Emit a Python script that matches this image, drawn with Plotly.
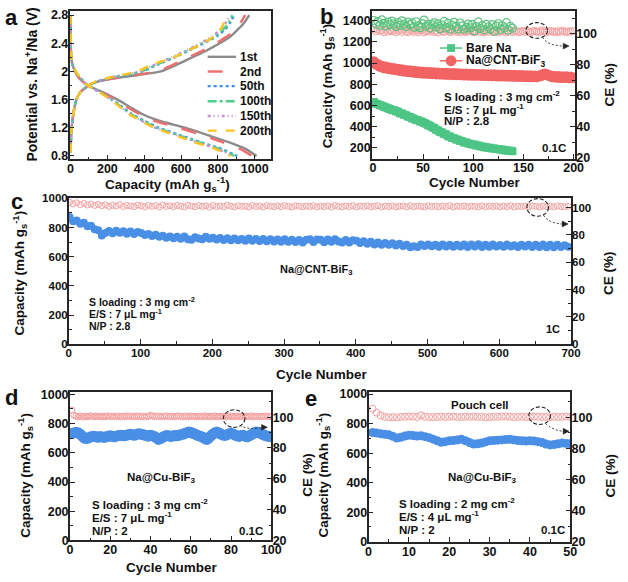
import plotly.graph_objects as go

W, H = 628, 582
def px(x): return x / W
def py(y): return 1 - y / H

FAM = "Liberation Sans, Arial, sans-serif"
# ---------------- data ----------------
# panel a: voltage profiles
cycles_a = ["1st", "2nd", "50th", "100th", "150th", "200th"]
colors_a = ["#8c8c8c", "#f26d6d", "#3d8ef0", "#4ccf8a", "#c68fd6", "#ffc41f"]
dis_V = [2.8, 2.4, 2.2, 2.1, 2.0, 1.9, 1.8, 1.7, 1.6, 1.5, 1.4, 1.3, 1.2, 1.1, 1.0, 0.9, 0.8]
dis_1st   = [0, 1, 4, 10, 24, 48, 95, 180, 255, 320, 385, 480, 625, 740, 855, 950, 1010]
dis_2nd   = [0, 1, 4, 10, 25, 50, 95, 175, 245, 305, 370, 455, 590, 710, 820, 920, 985]
dis_50th  = [0, 1, 4, 10, 27, 56, 95, 165, 225, 280, 330, 400, 480, 590, 700, 820, 905]
dis_100th = [0, 1, 4, 10, 27, 56, 95, 165, 222, 275, 325, 392, 470, 580, 690, 810, 890]
dis_150th = [0, 1, 4, 10, 28, 57, 95, 160, 220, 270, 320, 385, 462, 570, 680, 800, 878]
dis_200th = [0, 1, 4, 10, 28, 58, 95, 160, 218, 266, 315, 378, 455, 560, 668, 785, 868]
chg_V = [0.85, 1.2, 1.5, 1.6, 1.7, 1.8, 1.85, 1.9, 1.95, 2.0, 2.1, 2.2, 2.3, 2.4, 2.5, 2.6, 2.7, 2.8]
chg_1st   = [0, 6, 22, 32, 52, 98, 140, 230, 370, 490, 580, 660, 740, 810, 870, 910, 945, 970]
chg_2nd   = [0, 6, 22, 32, 52, 98, 140, 225, 350, 470, 560, 640, 720, 790, 850, 895, 925, 948]
chg_50th  = [0, 6, 22, 32, 52, 98, 135, 200, 300, 390, 475, 565, 645, 722, 795, 840, 868, 888]
chg_100th = [0, 6, 22, 32, 52, 98, 135, 198, 295, 385, 470, 560, 640, 715, 785, 830, 860, 878]
chg_150th = [0, 6, 22, 32, 52, 98, 133, 195, 290, 375, 460, 550, 630, 705, 770, 815, 845, 862]
chg_200th = [0, 6, 22, 32, 52, 98, 130, 190, 280, 360, 445, 560, 640, 720, 780, 815, 835, 850]
dis_caps = [dis_1st, dis_2nd, dis_50th, dis_100th, dis_150th, dis_200th]
chg_caps = [chg_1st, chg_2nd, chg_50th, chg_100th, chg_150th, chg_200th]

# panel b
b_series = ["Bare Na", "Na@CNT-BiF<sub>3</sub>"]
b_bare_cycle = list(range(1, 141, 2))
b_bare_cap = [632, 616, 611, 602, 597, 588, 582, 574, 568, 558,
              554, 545, 540, 528, 524, 513, 508, 496, 492, 480,
              476, 464, 460, 449, 446, 434, 428, 414, 409, 394,
              388, 372, 365, 350, 346, 331, 327, 311, 308, 294,
              292, 279, 276, 264, 262, 251, 250, 241, 240, 231,
              231, 223, 223, 215, 214, 207, 207, 200, 201, 194,
              195, 189, 190, 183, 184, 177, 179, 173, 174, 168]
b_bare_ce = [108.5, 106.2, 107.8, 105.4, 108.9, 106.7, 104.9, 107.5, 105.8, 108.1,
             106.4, 104.7, 107.2, 105.5, 108.3, 106.0, 104.6, 107.4, 105.9, 106.8,
             104.2, 107.7, 105.1, 103.9, 106.5, 108.8, 104.8, 106.1, 103.6, 105.7,
             107.0, 104.4, 106.3, 103.2, 105.6, 107.9, 104.0, 106.6, 102.9, 105.3,
             107.3, 104.5, 103.1, 106.9, 105.0, 102.8, 104.1, 106.2, 103.7, 105.9,
             101.8, 104.6, 107.6, 103.4, 105.2, 102.5, 106.0, 104.3, 103.0, 105.8,
             101.5, 104.9, 106.4, 102.7, 105.1, 103.8, 107.1, 102.2, 104.7, 103.5]
b_cnt_cycle = list(range(1, 201, 2))
b_cnt_cap = [1012, 990, 986, 970, 969, 955, 962, 948, 954, 942,
             948, 936, 941, 929, 936, 924, 931, 919, 927, 915,
             922, 911, 918, 907, 916, 904, 913, 902, 910, 900,
             909, 898, 907, 896, 905, 894, 904, 893, 902, 891,
             901, 890, 899, 889, 898, 887, 897, 886, 895, 885,
             894, 884, 893, 883, 892, 882, 891, 881, 890, 880,
             889, 879, 888, 878, 887, 877, 886, 876, 885, 875,
             884, 874, 883, 873, 882, 872, 881, 871, 880, 870,
             879, 871, 878, 880, 889, 896, 892, 884, 878, 870,
             874, 866, 873, 864, 871, 863, 870, 861, 868, 862]
b_cnt_ce = [102.6, 101.4, 102.9, 101.7, 102.2, 100.9, 102.5, 101.3, 102.0, 101.6,
            102.4, 100.8, 101.9, 102.3, 101.1, 102.7, 101.5, 100.9, 102.1, 101.8,
            101.2, 102.5, 101.0, 101.9, 102.3, 100.8, 101.6, 102.0, 101.3, 102.6,
            101.1, 101.8, 100.7, 102.2, 101.5, 101.0, 102.4, 101.7, 100.9, 101.9,
            102.1, 101.2, 101.6, 100.8, 102.3, 101.4, 101.0, 101.8, 102.0, 101.3,
            100.9, 101.7, 102.2, 101.1, 101.5, 100.8, 101.9, 101.3, 102.1, 101.0,
            101.6, 102.0, 100.9, 101.4, 101.8, 101.2, 100.8, 101.7, 102.2, 101.0,
            101.5, 101.9, 100.9, 101.3, 101.8, 101.1, 102.0, 101.4, 100.8, 101.6,
            101.9, 101.2, 101.0, 101.7, 102.1, 101.3, 100.9, 101.6, 101.8, 101.1,
            101.5, 100.9, 101.7, 101.2, 102.0, 101.4, 101.0, 101.6, 101.3, 101.8]

# panel c
c_cycle = list(range(1, 701, 5))
c_cap = [872, 842, 848, 826, 832, 808, 812, 788, 782, 746,
         762, 776, 760, 778, 764, 775, 758, 772, 756, 770,
         762, 748, 756, 742, 750, 736, 744, 730, 739, 727,
         736, 723, 738, 720, 716, 733, 724, 719, 736, 723,
         729, 718, 728, 715, 726, 713, 724, 712, 722, 710,
         725, 710, 722, 708, 721, 705, 719, 704, 718, 703,
         719, 702, 716, 700, 714, 698, 716, 719, 700, 718,
         716, 699, 718, 702, 719, 704, 698, 714, 697, 712,
         710, 694, 706, 689, 702, 684, 698, 681, 694, 682,
         692, 677, 688, 674, 682, 664, 671, 666, 683, 673,
         684, 671, 682, 668, 683, 670, 681, 668, 682, 669,
         683, 667, 684, 669, 685, 666, 682, 668, 684, 669,
         680, 668, 683, 670, 679, 667, 682, 669, 681, 666,
         682, 667, 683, 665, 681, 664, 682, 666, 679, 668]
c_ce = [103.8, 102.6, 103.4, 102.1, 102.9, 101.8, 102.5, 101.5, 102.2, 101.3,
        101.9, 100.8, 101.6, 101.0, 102.0, 100.7, 101.5, 101.1, 100.6, 101.8,
        101.2, 100.5, 101.6, 100.9, 101.4, 100.4, 101.7, 100.8, 101.3, 100.6,
        101.5, 100.9, 100.4, 101.6, 101.0, 100.5, 101.4, 100.8, 101.2, 100.3,
        101.5, 100.7, 101.1, 100.5, 101.6, 100.9, 100.4, 101.3, 100.8, 101.0,
        100.4, 101.5, 100.7, 101.1, 100.3, 101.4, 100.9, 100.6, 101.2, 100.5,
        101.4, 100.8, 100.4, 101.3, 100.9, 100.5, 101.1, 100.7, 101.3, 100.4,
        101.0, 100.6, 101.2, 100.3, 101.4, 100.8, 100.5, 101.1, 100.6, 101.3,
        100.4, 101.0, 100.7, 101.2, 100.5, 100.9, 101.3, 100.4, 101.0, 100.7,
        101.2, 100.5, 100.9, 101.1, 100.4, 101.3, 100.6, 101.0, 100.8, 100.4,
        101.2, 100.7, 100.9, 100.5, 101.1, 100.6, 101.3, 100.4, 100.9, 100.7,
        101.1, 100.5, 101.0, 100.8, 100.4, 101.2, 100.6, 100.9, 100.7, 101.1,
        100.5, 101.0, 100.6, 101.2, 100.4, 100.9, 100.7, 101.0, 100.5, 101.1,
        100.8, 100.4, 101.0, 100.6, 100.9, 100.5, 101.1, 100.7, 100.6, 100.9]

# panel d
d_cycle = list(range(1, 101))
d_cap = [732, 736, 741, 738, 728, 716, 702, 698, 701, 708,
         712, 714, 710, 706, 711, 709, 705, 710, 714, 716,
         713, 710, 714, 718, 721, 719, 716, 720, 724, 727,
         723, 720, 726, 731, 728, 725, 722, 718, 714, 721,
         716, 712, 702, 692, 698, 706, 713, 718, 716, 712,
         715, 719, 716, 720, 724, 727, 733, 738, 742, 740,
         734, 729, 722, 717, 712, 707, 697, 692, 703, 716,
         728, 738, 742, 735, 728, 722, 719, 724, 730, 734,
         729, 722, 716, 712, 718, 721, 714, 710, 716, 723,
         732, 740, 743, 738, 730, 724, 718, 714, 712, 710]
d_ce = [104.6, 101.3, 100.6, 100.2, 100.8, 100.4, 100.1, 100.7, 100.3, 100.9,
        100.5, 100.2, 100.8, 100.4, 100.6, 100.1, 100.7, 100.3, 100.9, 100.5,
        100.2, 100.6, 100.4, 100.8, 100.1, 100.5, 100.7, 100.3, 100.9, 100.4,
        100.6, 100.2, 100.8, 100.5, 100.3, 100.7, 100.1, 100.6, 100.4, 101.2,
        100.8, 100.3, 100.5, 100.7, 100.2, 100.6, 100.4, 100.9, 100.3, 100.5,
        100.7, 100.2, 100.6, 100.8, 100.4, 100.1, 100.7, 100.5, 100.3, 100.8,
        100.4, 100.6, 100.2, 100.7, 100.5, 100.3, 100.9, 100.4, 100.6, 100.2,
        100.5, 100.8, 100.3, 100.6, 100.4, 100.7, 100.2, 100.5, 100.9, 100.3,
        100.6, 100.4, 100.8, 100.2, 100.5, 100.7, 100.3, 100.6, 100.4, 100.9,
        100.2, 100.5, 100.7, 100.3, 100.6, 100.4, 100.8, 100.2, 100.5, 100.4]

# panel e
e_cycle = list(range(1, 51))
e_cap = [740, 736, 732, 728, 724, 714, 702, 708, 716, 722,
         720, 716, 718, 712, 705, 695, 684, 674, 678, 684,
         686, 690, 694, 684, 672, 662, 664, 668, 676, 684,
         686, 688, 690, 692, 694, 690, 686, 684, 682, 684,
         682, 678, 672, 662, 656, 658, 664, 668, 666, 664]
e_ce = [105.6, 103.0, 101.2, 100.3, 100.1, 100.2, 100.0, 100.3, 100.4, 100.6,
        100.5, 100.2, 101.3, 100.4, 100.2, 100.1, 100.3, 100.5, 100.2, 100.4,
        100.5, 100.3, 100.2, 100.4, 100.3, 100.5, 100.2, 100.3, 100.1, 100.2,
        100.4, 100.3, 100.5, 100.6, 100.4, 100.2, 100.3, 100.4, 100.2, 100.3,
        100.5, 100.4, 100.2, 100.3, 100.1, 100.4, 100.2, 100.3, 100.5, 100.2]

# ---------------- figure ----------------
fig = go.Figure()

dash_a = ["solid", "longdash", "dot", "dashdot", "3px,3px,1px,3px,1px,3px", "dash"]
for name, col, dsh, dc, cc in zip(cycles_a, colors_a, dash_a, dis_caps, chg_caps):
    fig.add_trace(go.Scatter(
        x=dc + [None] + cc, y=dis_V + [None] + chg_V, mode="lines", name=name, showlegend=False,
        line=dict(color=col, width=2.4, dash=dsh, shape="spline", smoothing=0.6),
        xaxis="x", yaxis="y"))

RED = "#f26464"; GREEN = "#4dc585"; BLUE = "#4a8fe6"; PINK = "#f3a0a0"
# panel b
fig.add_trace(go.Scatter(x=b_cnt_cycle, y=b_cnt_ce, mode="markers", showlegend=False,
    marker=dict(symbol="circle-open", size=7, color=PINK, line=dict(width=1)),
    xaxis="x2", yaxis="y3"))
fig.add_trace(go.Scatter(x=b_bare_cycle, y=b_bare_ce, mode="markers", showlegend=False,
    marker=dict(symbol="circle-open", size=8, color="#5cc27f", line=dict(width=1.2)),
    xaxis="x2", yaxis="y3"))
fig.add_trace(go.Scatter(x=b_bare_cycle, y=b_bare_cap, mode="lines+markers", name=b_series[0], showlegend=False,
    marker=dict(symbol="square", size=8, color=GREEN), line=dict(color=GREEN, width=1.5),
    xaxis="x2", yaxis="y2"))
fig.add_trace(go.Scatter(x=b_cnt_cycle, y=b_cnt_cap, mode="lines+markers", name=b_series[1], showlegend=False,
    marker=dict(symbol="circle", size=11, color=RED), line=dict(color=RED, width=1.5),
    xaxis="x2", yaxis="y2"))
# panel c
fig.add_trace(go.Scatter(x=c_cycle, y=c_ce, mode="markers", showlegend=False,
    marker=dict(symbol="circle-open", size=6, color=PINK, line=dict(width=1)),
    xaxis="x3", yaxis="y5"))
fig.add_trace(go.Scatter(x=c_cycle, y=c_cap, mode="markers", showlegend=False,
    marker=dict(symbol="circle", size=8, color=BLUE), xaxis="x3", yaxis="y4"))
# panel d
fig.add_trace(go.Scatter(x=d_cycle, y=d_ce, mode="markers", showlegend=False,
    marker=dict(symbol="circle-open", size=6, color=PINK, line=dict(width=1)),
    xaxis="x4", yaxis="y7"))
fig.add_trace(go.Scatter(x=d_cycle, y=d_cap, mode="markers", showlegend=False,
    marker=dict(symbol="circle", size=11, color=BLUE), xaxis="x4", yaxis="y6"))
# panel e
fig.add_trace(go.Scatter(x=e_cycle, y=e_ce, mode="markers", showlegend=False,
    marker=dict(symbol="circle-open", size=7, color=PINK, line=dict(width=1)),
    xaxis="x5", yaxis="y9"))
fig.add_trace(go.Scatter(x=e_cycle, y=e_cap, mode="markers", showlegend=False,
    marker=dict(symbol="circle", size=9, color=BLUE), xaxis="x5", yaxis="y8"))

LC = "#262626"
def tf(s): return dict(family=FAM, size=s, color="#111", weight="bold")

def ax(domain, rng, dtick, minor, anchor, tsize=12.5, mirror=True, tick0=0, side=None,
       overlaying=None, standoff=-3):
    d = dict(domain=domain, range=rng, dtick=dtick, tick0=tick0, ticks="inside", ticklen=5,
             tickwidth=1.3, tickcolor=LC,
             minor=dict(ticks="inside", ticklen=3, dtick=minor, tickwidth=1.1, tickcolor=LC, showgrid=False),
             showline=True, linecolor=LC, linewidth=1.6, mirror=mirror, showgrid=False,
             zeroline=False, anchor=anchor, tickfont=tf(tsize), ticklabelstandoff=standoff)
    if side: d["side"] = side
    if overlaying: d["overlaying"] = overlaying
    return d

XS = -3   # x tick label standoff
YS = -3   # y tick label standoff
layout = dict(
    width=W, height=H, margin=dict(l=0, r=0, t=0, b=0), showlegend=False,
    paper_bgcolor="white", plot_bgcolor="white",
    font=dict(family=FAM, color="#111"),
    xaxis=ax([px(68), px(274)], [-5, 1090], 200, 100, "y", standoff=XS),
    yaxis=ax([py(157), py(5)], [0.75, 2.86], 0.4, 0.2, "x", tick0=0.8, standoff=YS),
    xaxis2=ax([px(376.7), px(584)], [-1, 201.3], 50, 25, "y2", standoff=XS),
    yaxis2=ax([py(156), py(5)], [100, 1492], 200, 100, "x2", mirror=False, standoff=YS),
    yaxis3=ax([py(156), py(5)], [19.5, 114.7], 20, 10, "x2", mirror=False, side="right", overlaying="y2", standoff=YS),
    xaxis3=ax([px(67.2), px(580)], [0, 700], 100, 50, "y4", tsize=11.5, standoff=XS),
    yaxis4=ax([py(346), py(196.7)], [0, 1000], 200, 100, "x3", tsize=11.5, mirror=False, standoff=YS),
    yaxis5=ax([py(346), py(196.7)], [0, 106.7], 20, 10, "x3", tsize=11.5, mirror=False, side="right", overlaying="y4", standoff=YS),
    xaxis4=ax([px(68.3), px(274)], [0, 100], 20, 10, "y6", standoff=XS),
    yaxis6=ax([py(546.7), py(395)], [0, 1015], 200, 100, "x4", mirror=False, standoff=YS),
    yaxis7=ax([py(546.7), py(395)], [20, 116.2], 20, 10, "x4", mirror=False, side="right", overlaying="y6", standoff=YS),
    xaxis5=ax([px(373.3), px(579.3)], [0, 50], 10, 5, "y8", standoff=XS),
    yaxis8=ax([py(548), py(395)], [0, 1013], 200, 100, "x5", mirror=False, standoff=YS),
    yaxis9=ax([py(548), py(395)], [20, 116.2], 20, 10, "x5", mirror=False, side="right", overlaying="y8", standoff=YS),
)
fig.update_layout(**layout)

ann = []
def text(x, y, s, size=12, xanchor="left", angle=0):
    ann.append(dict(x=px(x), y=py(y), xref="paper", yref="paper", text=s, showarrow=False,
                    xanchor=xanchor, yanchor="middle", textangle=angle, font=tf(size)))

shapes = []
# manual legend for panel a
leg_a_y = [52, 67, 82, 97.5, 112.5, 127.5]
for name, col, dsh, yy in zip(cycles_a, colors_a, dash_a, leg_a_y):
    shapes.append(dict(type="line", xref="paper", yref="paper", x0=px(209), x1=px(238),
                       y0=py(yy), y1=py(yy), line=dict(color=col, width=2.4, dash=dsh)))
    text(240, yy, name, 12)
# manual legend for panel b
leg_b_y = [43, 56]
for name, col, sym, yy in zip(b_series, [GREEN, RED], ["square", "circle"], leg_b_y):
    shapes.append(dict(type="line", xref="paper", yref="paper", x0=px(446), x1=px(469),
                       y0=py(yy), y1=py(yy), line=dict(color=col, width=1.5)))
    r = 4 if sym == "square" else 5.5
    shapes.append(dict(type="rect" if sym == "square" else "circle", xref="paper", yref="paper",
                       x0=px(457.5 - r), x1=px(457.5 + r), y0=py(yy + r), y1=py(yy - r),
                       fillcolor=col, line=dict(color=col, width=0)))
    text(471, yy, name, 12)

# panel labels
text(9, 12, "a", 22, "center"); text(330, 11, "b", 22, "center")
text(14, 200, "c", 22, "center"); text(9, 400, "d", 22, "center"); text(314, 401, "e", 22, "center")
# axis titles
cap_t = "Capacity (mAh g<sub>s</sub><sup>-1</sup>)"
text(29, 80, "Potential vs. Na<sup>+</sup>/Na (V)", 14, "center", -90)
text(168, 182, cap_t, 13.5, "center")
text(331, 82, cap_t, 13.5, "center", -90)
text(619, 80, "CE (%)", 13.5, "center", -90)
text(482, 181, "Cycle Number", 13.5, "center")
text(17, 273, cap_t, 13.5, "center", -90)
text(619, 273, "CE (%)", 13.5, "center", -90)
text(326, 377, "Cycle Number", 13.5, "center")
text(23, 480, cap_t, 13.5, "center", -90)
text(311, 480, "CE (%)", 13.5, "center", -90)
text(173, 574, "Cycle Number", 13.5, "center")
text(327, 480, cap_t, 13.5, "center", -90)
text(620, 480, "CE (%)", 13.5, "center", -90)
# panel b notes
text(448, 92, "S loading : 3 mg cm<sup>-2</sup>", 11.5)
text(448, 105, "E/S : 7 μL mg<sup>-1</sup>", 11.5)
text(448, 118, "N/P : 2.8", 11.5)
text(548, 145, "0.1C", 11.5)
# panel c notes
text(320, 270, "Na@CNT-BiF<sub>3</sub>", 11, "center")
text(86, 302, "S loading : 3 mg cm<sup>-2</sup>", 10.5)
text(86, 315, "E/S : 7 μL mg<sup>-1</sup>", 10.5)
text(86, 327, "N/P : 2.8", 10.5)
text(562, 330, "1C", 11, "center")
# panel d notes
text(162, 483, "Na@Cu-BiF<sub>3</sub>", 11.5, "center")
text(89, 509, "S loading : 3 mg cm<sup>-2</sup>", 11.5)
text(89, 523, "E/S : 7 μL mg<sup>-1</sup>", 11.5)
text(89, 537, "N/P : 2", 11.5)
text(253, 537, "0.1C", 11.5, "center")
# panel e notes
text(487, 408, "Pouch cell", 11.5, "center")
text(490, 483, "Na@Cu-BiF<sub>3</sub>", 11.5, "center")
text(402, 508, "S loading : 2 mg cm<sup>-2</sup>", 11.5)
text(402, 522, "E/S : 4 μL mg<sup>-1</sup>", 11.5)
text(402, 536, "N/P : 2", 11.5)
text(562, 536, "0.1C", 11.5, "center")
fig.update_layout(annotations=ann)

# decorations: dashed ellipses and dotted curved arrows
def ellipse(cx, cy, rx, ry):
    shapes.append(dict(type="circle", xref="paper", yref="paper",
                       x0=px(cx - rx), x1=px(cx + rx), y0=py(cy + ry), y1=py(cy - ry),
                       line=dict(color="#222", width=1.1, dash="4px,2px")))
def arrow(x0, y0, cx, cy, x1, y1):
    p = f"M {px(x0)},{py(y0)} Q {px(cx)},{py(cy)} {px(x1)},{py(y1)}"
    shapes.append(dict(type="path", xref="paper", yref="paper", path=p,
                       line=dict(color="#333", width=1, dash="2px,2px")))
    hx, hy = x1 + 4, y1
    head = f"M {px(hx)},{py(hy)} L {px(hx-6)},{py(hy-3)} L {px(hx-6)},{py(hy+3)} Z"
    shapes.append(dict(type="path", xref="paper", yref="paper", path=head,
                       fillcolor="#222", line=dict(color="#222", width=0.5)))

ellipse(545, 25, 11, 8); arrow(551, 32, 556, 41, 574, 41)
ellipse(546, 206, 11, 9); arrow(552, 214, 558, 223, 573, 223)
ellipse(236, 422, 11, 9); arrow(242, 429, 250, 434, 266, 431)
ellipse(548, 419, 11, 9); arrow(554, 427, 563, 435, 574, 435)
fig.update_layout(shapes=shapes)

fig.write_html("out.html")
